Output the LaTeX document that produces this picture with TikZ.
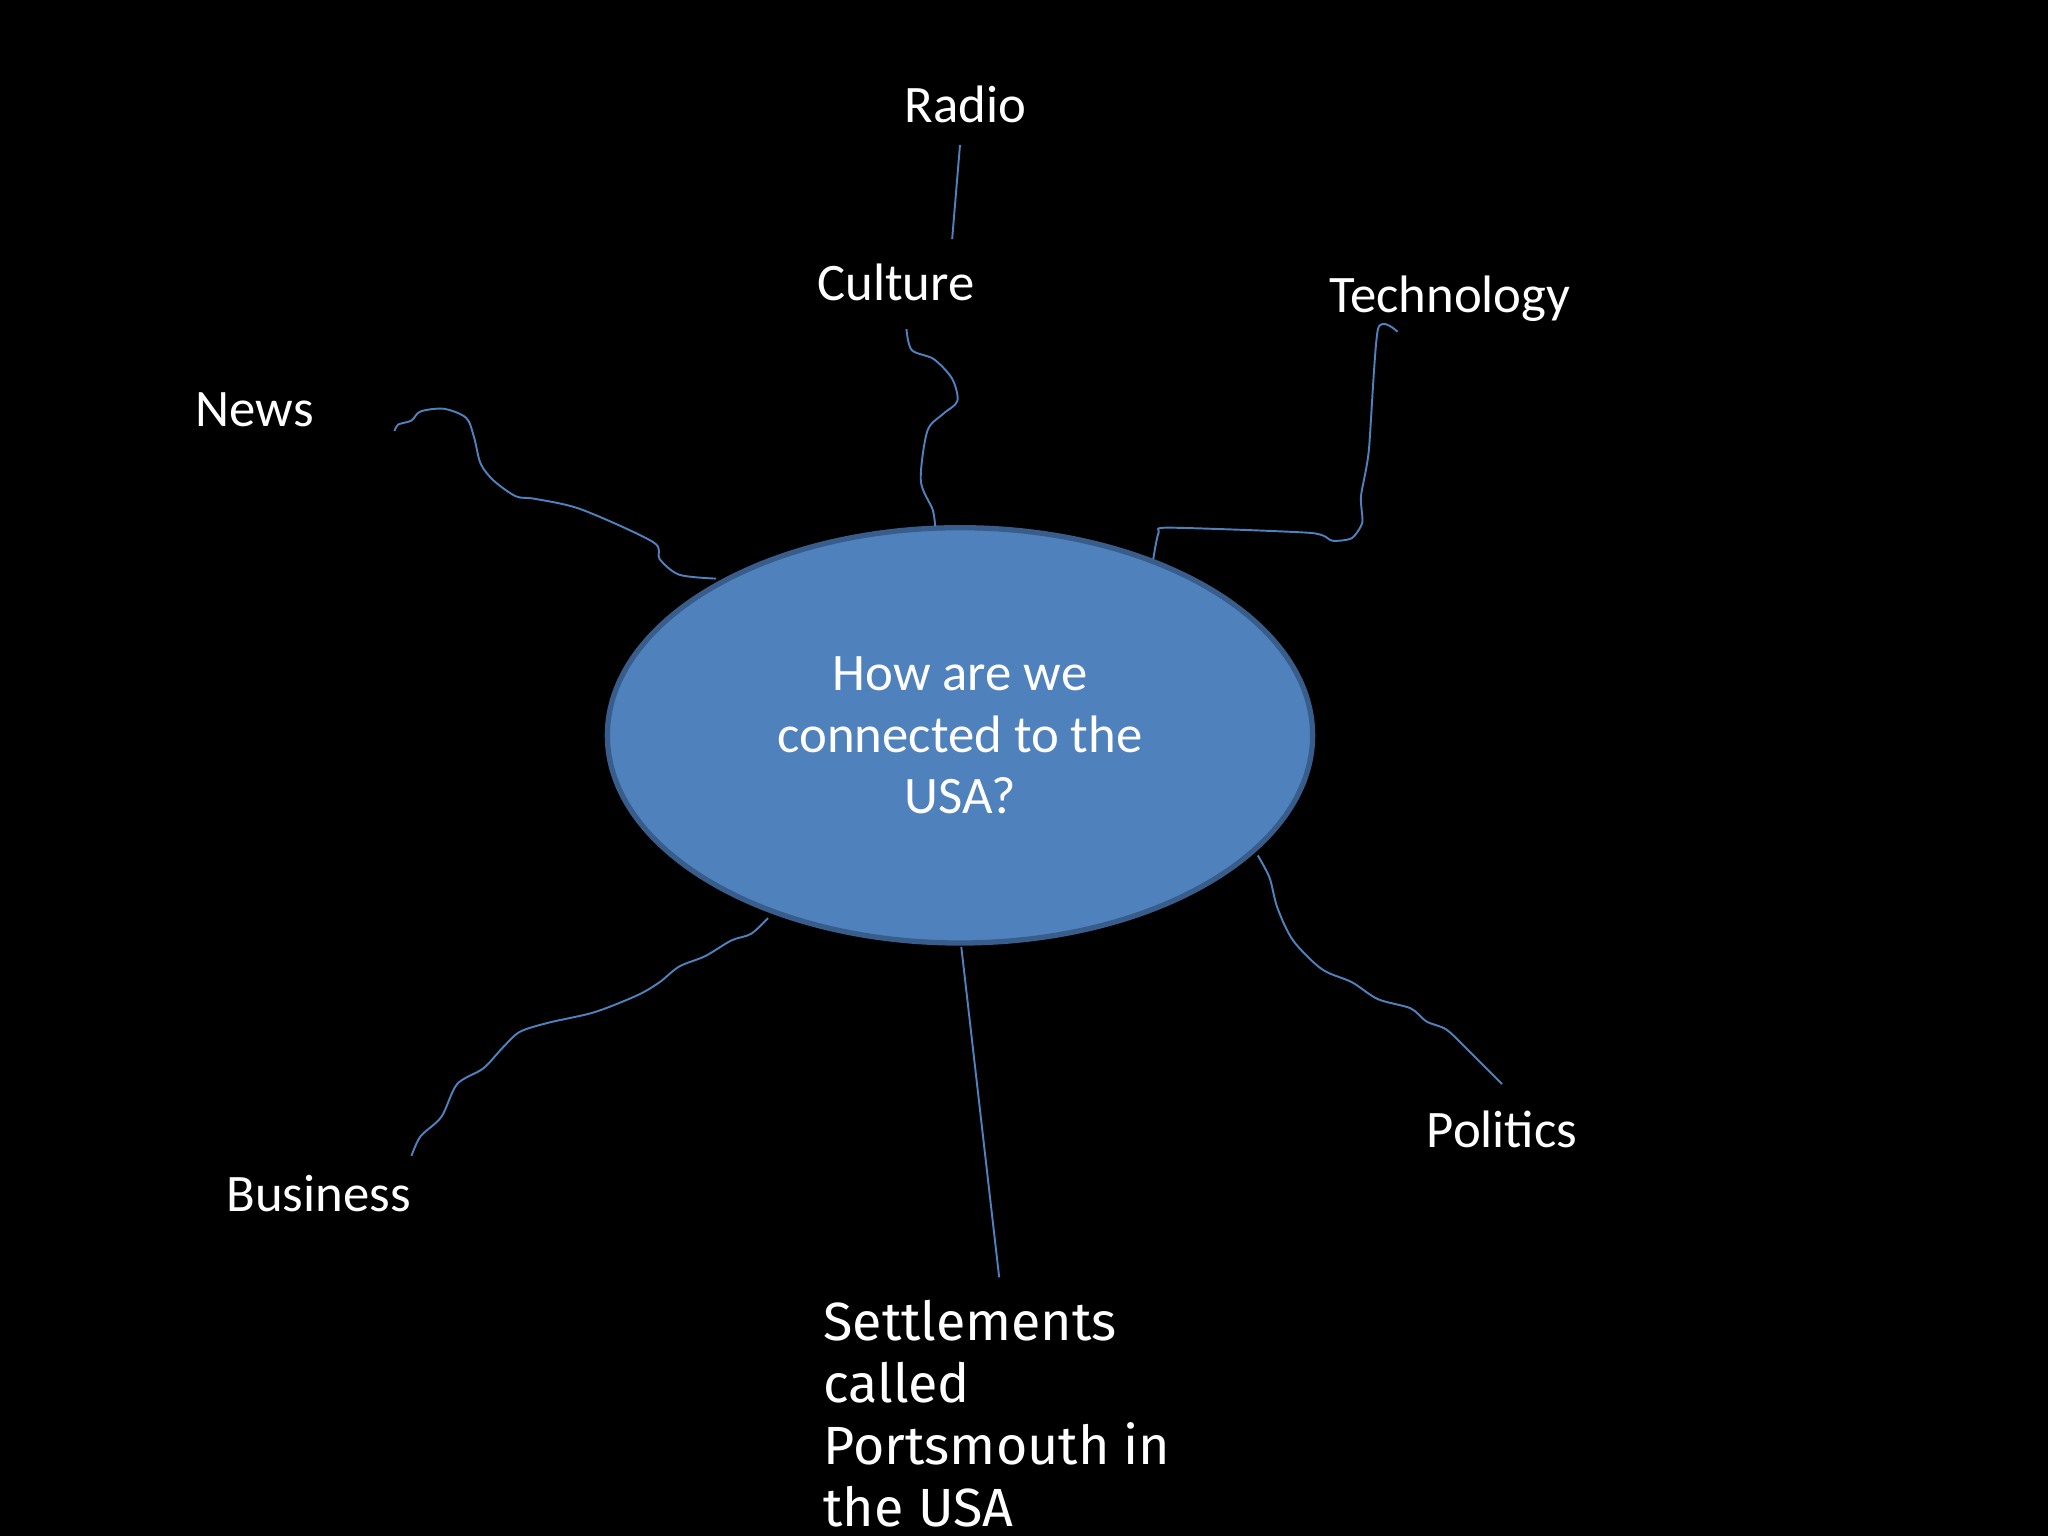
\documentclass[tikz,border=0pt]{standalone}
\usepackage{fontspec}
\usetikzlibrary{shapes.geometric}
\setmainfont{Carlito}
\newfontfamily\comic{Fira Sans}
\definecolor{ln}{RGB}{79,129,189}
\definecolor{bd}{RGB}{56,93,138}
\begin{document}
\begin{tikzpicture}[x=0.01306cm,y=-0.01306cm,
  lbl/.style={text=white,font=\fontsize{15}{18}\selectfont,inner sep=0},
  wire/.style={draw=ln,line width=0.55pt}]
\fill[black] (0,0) rectangle (1568,1176);
\node[ellipse,fill=ln,draw=bd,line width=1.5pt,minimum width=540*0.01306cm,minimum height=318*0.01306cm,inner sep=0,
  text=white,align=center,font=\fontsize{15}{17.5}\selectfont] (q) at (735,563) {How are we\\connected to the\\USA?};
\node[lbl] (radio) at (739,80) {Radio};
\node[lbl] (culture) at (686,216) {Culture};
\node[lbl] (tech) at (1110,229) {Technology};
\node[lbl] (news) at (195,314) {News};
\node[lbl] (bus) at (244,914) {Business};
\node[lbl] (pol) at (1150,865) {Politics};
\node[lbl,anchor=north west,align=left,font=\comic\fontsize{15.3}{17.6}\selectfont] (set) at (630,995) {Settlements\\called\\Portsmouth in\\the USA};
\draw[wire] (735,111) -- (729,183);
\draw[wire] plot[smooth,tension=0.5] coordinates {(694,252)(698,268)(715,275)(729,290)(733,307)(722,317)(710,330)(705,368)(714,390)(716,403)};
\draw[wire] plot[smooth,tension=0.4] coordinates {(883,428)(887,408)(895,404)(1003,408)(1020,414)(1035,412)(1043,400)(1042,380)(1048,345)(1055,252)(1070,254)};
\draw[wire] plot[smooth,tension=0.5] coordinates {(302,330)(305,325)(315,322)(322,315)(340,313)(357,320)(363,335)(368,355)(378,368)(395,380)(410,382)(445,390)(500,415)(505,428)(520,440)(548,443)};
\draw[wire] plot[smooth,tension=0.5] coordinates {(588,703)(575,715)(560,720)(540,732)(520,740)(505,752)(488,762)(455,775)(420,783)(398,790)(385,802)(370,818)(350,830)(338,855)(322,870)(315,885)};
\draw[wire] (736,725) -- (765,978);
\draw[wire] plot[smooth,tension=0.5] coordinates {(963,655)(972,672)(978,695)(990,720)(1012,742)(1035,752)(1055,765)(1080,772)(1092,782)(1107,788)(1120,800)(1140,820)(1150,830)};
\end{tikzpicture}
\end{document}
